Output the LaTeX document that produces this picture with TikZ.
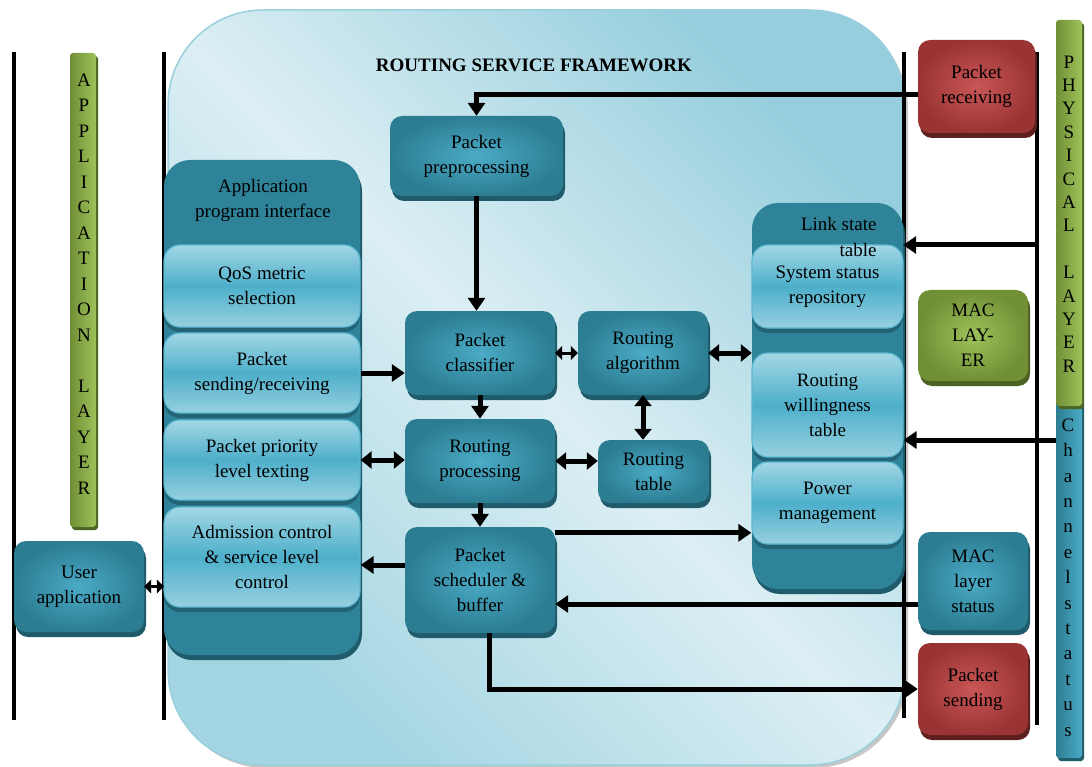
\documentclass[tikz,border=0pt]{standalone}
\usepackage{fontspec}
\setmainfont{Liberation Serif}
\usetikzlibrary{arrows.meta,shadows}
\definecolor{tealout}{HTML}{2C7D92}
\definecolor{tealin}{HTML}{4BABC6}
\definecolor{tealsh}{HTML}{1F5B6B}
\definecolor{conto}{HTML}{2E8399}
\definecolor{lighttop}{HTML}{A3D7E5}
\definecolor{lightmid}{HTML}{4DAFCA}
\definecolor{lightbot}{HTML}{97D0E0}
\definecolor{lightedge}{HTML}{5DB8D2}
\definecolor{redout}{HTML}{9A3434}
\definecolor{redin}{HTML}{CA5656}
\definecolor{redsh}{HTML}{5E1F1F}
\definecolor{grout}{HTML}{718F35}
\definecolor{grin}{HTML}{9DC25A}
\definecolor{grsh}{HTML}{4C6322}
\definecolor{fwa}{HTML}{96CEDD}
\definecolor{fwmid}{HTML}{DCEFF4}
\definecolor{fwb}{HTML}{A3D5E2}
\definecolor{fwedge}{HTML}{9ACFDD}
\begin{document}
\begin{tikzpicture}[x=1pt,y=-1pt,
  base/.style={rounded corners=12pt, align=center, inner sep=0pt,
    font=\fontsize{19}{25}\selectfont},
  tealbox/.style={base, inner color=tealin, outer color=tealout,
    drop shadow={shadow xshift=2pt, shadow yshift=-5pt, fill=tealsh, opacity=1}},
  redbox/.style={base, inner color=redin, outer color=redout,
    drop shadow={shadow xshift=2pt, shadow yshift=-5pt, fill=redsh, opacity=1}},
  grbox/.style={base, inner color=grin, outer color=grout,
    drop shadow={shadow xshift=2pt, shadow yshift=-5pt, fill=grsh, opacity=1}},
  container/.style={rounded corners=26pt, inner sep=0pt, fill=conto,
    drop shadow={shadow xshift=2pt, shadow yshift=-5pt, fill=tealsh, opacity=1}},
  subbox/.style={base, rounded corners=16pt, top color=lighttop, bottom color=lightbot,
    middle color=lightmid, draw=lightedge, line width=1.2pt,
    drop shadow={shadow xshift=0pt, shadow yshift=-5pt, fill=tealsh, opacity=0.8}},
  grbar/.style={rounded corners=3pt, inner sep=0pt, left color=grout, right color=grin,
    drop shadow={shadow xshift=2pt, shadow yshift=-3pt, fill=grsh, opacity=1}},
  tealbar/.style={rounded corners=3pt, inner sep=0pt, left color=tealout, right color=tealin,
    drop shadow={shadow xshift=2pt, shadow yshift=-3pt, fill=tealsh, opacity=1}},
  vletters/.style={align=center, inner sep=0pt},
  vline/.style={line width=4pt, black},
  arr/.style={line width=5pt, -{Triangle[length=13pt,width=17pt]}},
  darr/.style={line width=5pt, {Triangle[length=11pt,width=17pt]}-{Triangle[length=11pt,width=17pt]}},
  starr/.style={line width=3pt, {Triangle[length=7pt,width=14pt]}-{Triangle[length=7pt,width=14pt]}}
]
\useasboundingbox (0,0) rectangle (1092,767);

% framework background
\fill[rounded corners=95pt, gray!45] (171,14) rectangle (908,768);
\path[rounded corners=95pt, left color=fwa, right color=fwb, middle color=fwmid, shading angle=-45] (168,10) rectangle (905,765);
\draw[rounded corners=95pt, fwedge, line width=1.5pt] (168,10) rectangle (905,765);
\node[font=\bfseries\fontsize{19}{21}\selectfont] (title) at (534,65) {ROUTING SERVICE FRAMEWORK};

% vertical lines
\draw[vline] (14,52) -- (14,720);
\draw[vline] (164,52) -- (164,720);
\draw[vline] (904,52) -- (904,718);
\draw[vline] (1037,52) -- (1037,725);

% left side
\node[grbar, minimum width=26pt, minimum height=474pt] (appbar) at (83,290) {};
\node[vletters, font=\fontsize{19}{25.5}\selectfont] (applbl) at (84,284)
  {A\\P\\P\\L\\I\\C\\A\\T\\I\\O\\N\\[25.5pt]L\\A\\Y\\E\\R};
\node[tealbox, minimum width=130pt, minimum height=91pt] (useapp) at (79,586.5) {User\\application};

% right side bars
\node[tealbar, minimum width=26pt, minimum height=358pt] (chanbar) at (1069,579) {};
\node[vletters, font=\fontsize{19}{25.4}\selectfont] (chanlbl) at (1068,577.5)
  {C\\h\\a\\n\\n\\e\\l\\s\\t\\a\\t\\u\\s};
\node[grbar, minimum width=26pt, minimum height=386pt] (phybar) at (1069,213) {};
\node[vletters, font=\fontsize{19}{23.4}\selectfont] (phylbl) at (1069,214)
  {P\\H\\Y\\S\\I\\C\\A\\L\\[23.4pt]L\\A\\Y\\E\\R};

\node[redbox, minimum width=117pt, minimum height=93pt] (pktrecv) at (976.5,86.5) {Packet\\receiving};
\node[grbox, minimum width=110pt, minimum height=91pt] (maclayer) at (973,335.5) {MAC\\LAY-\\ER};
\node[tealbox, minimum width=110pt, minimum height=98pt] (macstatus) at (973,581) {MAC\\layer\\status};
\node[redbox, minimum width=110pt, minimum height=92pt] (pktsend) at (973,689) {Packet\\sending};

% API container
\node[container, minimum width=196pt, minimum height=495pt] (api) at (262,407.5) {};
\node[font=\fontsize{19}{25}\selectfont, align=center] (apilbl) at (263,200) {Application\\program interface};
\node[subbox, minimum width=196pt, minimum height=82pt] (qos) at (262,286) {QoS metric\\selection};
\node[subbox, minimum width=196pt, minimum height=80pt] (psr) at (262,373) {Packet\\sending/receiving};
\node[subbox, minimum width=196pt, minimum height=80pt] (ppl) at (262,460) {Packet priority\\level texting};
\node[subbox, minimum width=196pt, minimum height=100pt] (adm) at (262,557) {Admission control\\\& service level\\control};

% centre boxes
\node[tealbox, minimum width=173pt, minimum height=80pt] (prepro) at (476.5,156) {Packet\\preprocessing};
\node[tealbox, minimum width=150pt, minimum height=84pt] (classifier) at (480,353) {Packet\\classifier};
\node[tealbox, minimum width=130pt, minimum height=84pt] (ralgo) at (643,353) {Routing\\algorithm};
\node[tealbox, minimum width=150pt, minimum height=84pt] (rproc) at (480,461) {Routing\\processing};
\node[tealbox, minimum width=111pt, minimum height=63pt] (rtable) at (653.5,471.5) {Routing\\table};
\node[tealbox, minimum width=150pt, minimum height=106pt] (sched) at (480,580) {Packet\\scheduler \&\\buffer};

% link state container
\node[container, minimum width=151pt, minimum height=386pt] (lst) at (827.5,396) {};
\node[subbox, minimum width=151pt, minimum height=83pt] (ssr) at (827.5,286.5) {System status\\repository};
\node[subbox, minimum width=151pt, minimum height=104pt] (rwt) at (827.5,405) {Routing\\willingness\\table};
\node[subbox, minimum width=151pt, minimum height=82pt] (pm) at (827.5,503) {Power\\management};
\node[font=\fontsize{19}{26}\selectfont, align=right, anchor=north east] (lstlbl) at (880,214) {Link state\\table};

% connectors
\coordinate (physin) at (1037,245);
\coordinate (chanin) at (1056,440);
\draw[arr] ([yshift=-8pt]pktrecv.west) -| (prepro.north);
\draw[arr] (prepro.south) -- (prepro.south |- classifier.north);
\draw[arr] (psr.east) -- (psr.east -| classifier.west);
\draw[arr] (classifier.south) -- (rproc.north);
\draw[starr] (classifier.east) -- (ralgo.west);
\draw[darr] (ralgo.east) -- (ralgo.east -| lst.west);
\draw[darr] (ralgo.south) -- (ralgo.south |- rtable.north);
\draw[darr] (rproc.east) -- (rproc.east -| rtable.west);
\draw[darr] (ppl.east) -- (ppl.east -| rproc.west);
\draw[arr] (rproc.south) -- (sched.north);
\draw[arr] ([yshift=-6pt]sched.north east) -- ([yshift=-6pt]sched.north east -| pm.west);
\draw[arr] ([yshift=15pt]sched.west) -- ([yshift=15pt]sched.west -| adm.east);
\draw[arr] ([yshift=-23pt]macstatus.west) -- ([yshift=-23pt]macstatus.west -| sched.east);
\draw[arr] ([xshift=9pt]sched.south) |- (pktsend.west);
\draw[arr] (physin) -- (physin -| lst.east);
\draw[arr] (chanin) -- (chanin -| rwt.east);
\draw[starr] (useapp.east) -- (useapp.east -| api.west);
\end{tikzpicture}
\end{document}
